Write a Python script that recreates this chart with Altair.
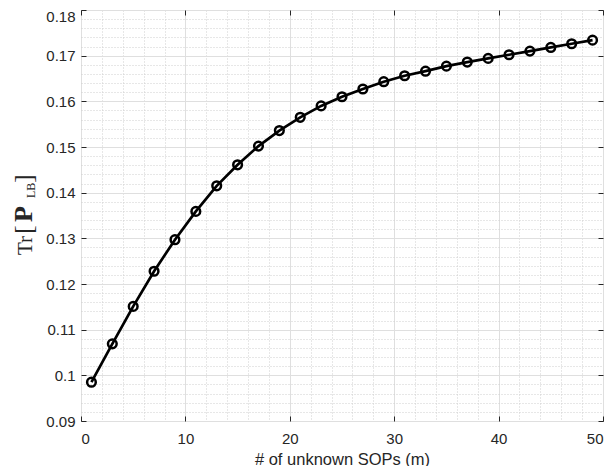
import altair as alt
import pandas as pd

m_values = [1, 3, 5, 7, 9, 11, 13, 15, 17, 19, 21, 23, 25, 27, 29, 31, 33, 35, 37, 39, 41, 43, 45, 47, 49]
tr_values = [0.0985, 0.1069, 0.1151, 0.1228, 0.1297, 0.1359, 0.1415, 0.1461, 0.1502, 0.1536,
             0.1565, 0.1590, 0.1610, 0.1627, 0.1643, 0.1656, 0.1666, 0.1677, 0.1686, 0.1694,
             0.1702, 0.1710, 0.1718, 0.1726, 0.1734]

x_major = [0, 10, 20, 30, 40, 50]
x_minor = [2, 4, 6, 8, 12, 14, 16, 18, 22, 24, 26, 28, 32, 34, 36, 38, 42, 44, 46, 48]
y_major = [0.09, 0.10, 0.11, 0.12, 0.13, 0.14, 0.15, 0.16, 0.17, 0.18]
y_minor = [0.092, 0.094, 0.096, 0.098, 0.102, 0.104, 0.106, 0.108, 0.112, 0.114, 0.116, 0.118,
           0.122, 0.124, 0.126, 0.128, 0.132, 0.134, 0.136, 0.138, 0.142, 0.144, 0.146, 0.148,
           0.152, 0.154, 0.156, 0.158, 0.162, 0.164, 0.166, 0.168, 0.172, 0.174, 0.176, 0.178]

x_title = "# of unknown SOPs (m)"

df = pd.DataFrame({"m": m_values, "tr": tr_values})

FONT = "Liberation Sans"
SERIF = "Liberation Serif"
DARK = "#262626"

xs = alt.Scale(domain=[0, 50], nice=False, zero=False)
ys = alt.Scale(domain=[0.09, 0.18], nice=False, zero=False)

base = alt.Chart(df)

# main line with major grid + labels
line = base.mark_line(color="black", strokeWidth=2.7).encode(
    x=alt.X("m:Q", scale=xs, axis=alt.Axis(
        orient="bottom", values=x_major, grid=True, gridColor="#dfdfdf", gridWidth=1,
        ticks=False, domain=False, labelFont=FONT, labelFontSize=15, labelColor=DARK,
        labelPadding=10, title=x_title, titleFont=FONT, titleFontSize=16.5,
        titleFontWeight="normal", titleColor=DARK, titlePadding=5)),
    y=alt.Y("tr:Q", scale=ys, axis=alt.Axis(
        orient="left", values=y_major, format="~g", grid=True, gridColor="#dfdfdf",
        gridWidth=1, ticks=False, domain=False, labelFont=FONT, labelFontSize=15,
        labelColor=DARK, labelPadding=6, title=None,
        labelOffset={"condition": {"test": "datum.value > 0.179", "value": 6}, "value": 0})),
)

# points with minor grid
points = base.mark_point(shape="circle", filled=False, color="black", strokeWidth=2.5,
                         size=75, opacity=1).encode(
    x=alt.X("m:Q", scale=xs, axis=alt.Axis(
        orient="bottom", values=x_minor, grid=True, gridColor="#cfcfcf", gridDash=[1, 2],
        gridWidth=1, ticks=False, labels=False, domain=False, title=None)),
    y=alt.Y("tr:Q", scale=ys, axis=alt.Axis(
        orient="left", values=y_minor, grid=True, gridColor="#cfcfcf", gridDash=[1, 2],
        gridWidth=1, ticks=False, labels=False, domain=False, title=None)),
)

def tick_axis(orient, values):
    return alt.Axis(orient=orient, values=values, offset=-5, tickSize=5, ticks=True,
                    tickColor=DARK, tickWidth=1, labels=False, grid=False, domain=False,
                    title=None)

ticks_bl = base.mark_point(opacity=0).encode(
    x=alt.X("m:Q", scale=xs, axis=tick_axis("bottom", x_major)),
    y=alt.Y("tr:Q", scale=ys, axis=tick_axis("left", y_major)),
)
ticks_tr = base.mark_point(opacity=0).encode(
    x=alt.X("m:Q", scale=xs, axis=tick_axis("top", x_major)),
    y=alt.Y("tr:Q", scale=ys, axis=tick_axis("right", y_major)),
)

def title_piece(txt, x, y, size, weight="normal"):
    return alt.Chart(pd.DataFrame({"t": [txt]})).mark_text(
        angle=270, align="left", baseline="alphabetic", font=SERIF, fontSize=size,
        fontWeight=weight, color=DARK).encode(
        text="t:N", x=alt.value(x), y=alt.value(y))

ytitle = [
    title_piece("Tr", -49, 245, 21),
    title_piece("[", -49, 224, 26),
    title_piece("P", -49, 212, 26, "bold"),
    title_piece("LB", -46, 188, 12),
    title_piece("]", -49, 173, 26),
]

chart = alt.layer(points, ticks_bl, ticks_tr, line, *ytitle).resolve_axis(
    x="independent", y="independent"
).properties(
    width=522, height=411,
    autosize=alt.AutoSizeParams(type="none"),
    padding={"left": 73, "top": 2, "right": 1, "bottom": 45},
).configure_view(stroke=DARK, strokeWidth=1)

chart.save("out.html", embed_options={"renderer": "svg", "actions": False})
